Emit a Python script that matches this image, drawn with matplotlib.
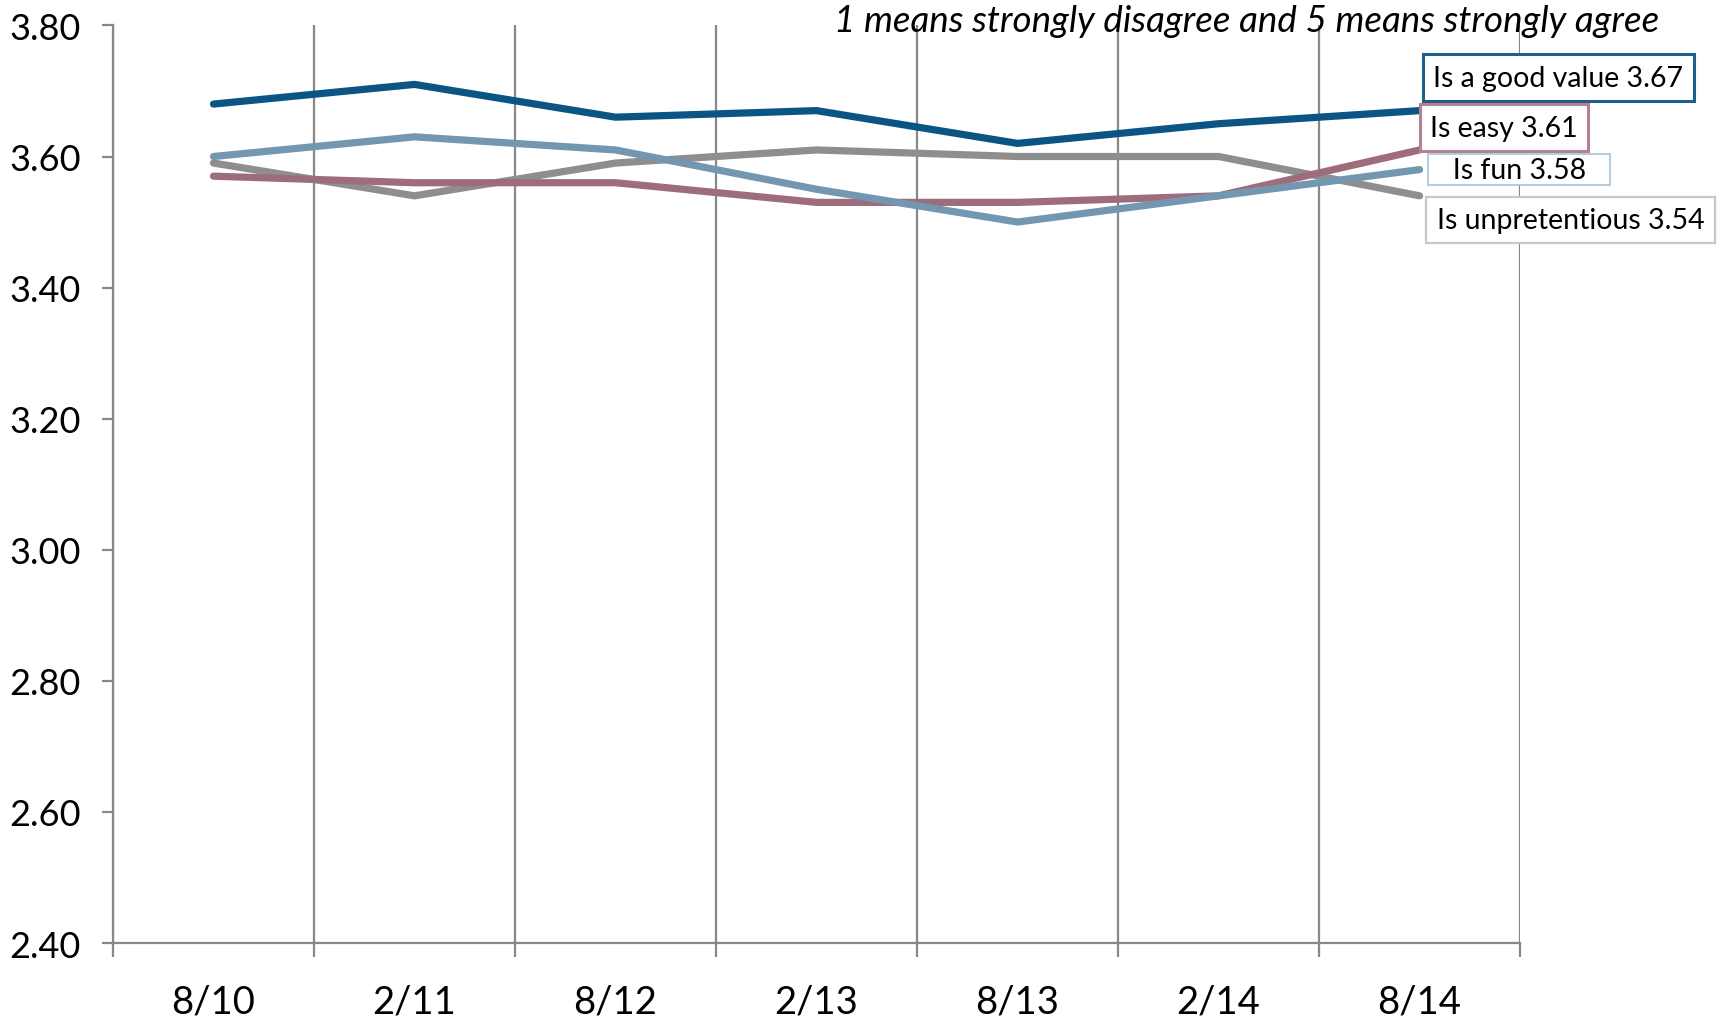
import numpy as np
import matplotlib.pyplot as plt
from matplotlib.ticker import FixedLocator

# Daten aus dem Diagramm
zeitpunkte = ['8/10', '2/11', '8/12', '2/13', '8/13', '2/14', '8/14']
gute_wert = [3.68, 3.71, 3.66, 3.67, 3.62, 3.65, 3.67]
spass = [3.60, 3.63, 3.61, 3.55, 3.50, 3.54, 3.58]
einfach = [3.57, 3.56, 3.56, 3.53, 3.53, 3.54, 3.61]
unpraetentioes = [3.59, 3.54, 3.59, 3.61, 3.60, 3.60, 3.54]

namen = ['Is a good value', 'Is easy', 'Is fun', 'Is unpretentious']
y_ticks = [2.40, 2.60, 2.80, 3.00, 3.20, 3.40, 3.60, 3.80]

plt.rcParams['font.family'] = ['Lato', 'DejaVu Sans']

fig = plt.figure(figsize=(17.25, 10.2), dpi=100)
ax = fig.add_axes([0.0655, 0.0745, 0.8157, 0.8996])

x = np.arange(len(zeitpunkte))
grau = '#888888'

# Linien (Reihenfolge wie im Original)
ax.plot(x, unpraetentioes, color='#8e8e8e', lw=5.2, solid_capstyle='round', zorder=3)
ax.plot(x, einfach, color='#9e6d7c', lw=5.2, solid_capstyle='round', zorder=4)
ax.plot(x, spass, color='#7397b0', lw=5.2, solid_capstyle='round', zorder=5)
ax.plot(x, gute_wert, color='#0b5585', lw=5.2, solid_capstyle='round', zorder=6)

ax.set_xlim(-0.5, len(zeitpunkte) - 0.5)
ax.set_ylim(2.40, 3.80)

# Achsen und Gitter
ax.set_yticks(y_ticks)
ax.set_yticklabels(['%.2f' % v for v in y_ticks])
ax.set_xticks(x)
ax.set_xticklabels(zeitpunkte)
ax.xaxis.set_minor_locator(FixedLocator(np.arange(-0.5, len(zeitpunkte), 1.0)))
ax.grid(which='minor', axis='x', color=grau, lw=1.6)
ax.tick_params(axis='x', which='major', length=0, pad=29, labelsize=27.5)
ax.tick_params(axis='x', which='minor', length=10, width=1.6, color=grau)
ax.tick_params(axis='y', length=8, width=1.6, color=grau, pad=15, labelsize=26)

for s in ['top', 'right']:
    ax.spines[s].set_visible(False)
for s in ['left', 'bottom']:
    ax.spines[s].set_color(grau)
    ax.spines[s].set_linewidth(1.6)

# Beschriftung oben rechts
fig.text(0.9617, 0.9686, '1 means strongly disagree and 5 means strongly agree',
         ha='right', va='baseline', style='italic', fontsize=26.5, zorder=10)

# Endbeschriftungen mit Rahmen (Versatz in Punkten, Mitte des Kastens)
letzter = len(zeitpunkte) - 1
etiketten = [
    ('%s %.2f' % (namen[0], gute_wert[-1]), gute_wert[-1], (100, 23.8), '#1f5f8b', 2.2, 0.36),
    ('%s %.2f' % (namen[1], einfach[-1]), einfach[-1], (60.8, 16.1), '#b7808f', 2.2, 0.36),
    ('   %s %.2f   ' % (namen[2], spass[-1]), spass[-1], (71.6, 0), '#a5c4da', 1.2, 0.08),
    ('%s %.2f' % (namen[3], unpraetentioes[-1]), unpraetentioes[-1], (108.7, -17.4), '#c8c8c8', 1.6, 0.36),
]
for text, wert, versatz, farbe, breite, pad in etiketten:
    ax.annotate(text, xy=(letzter, wert), xytext=versatz,
                textcoords='offset points', ha='center', va='center', fontsize=20.5,
                annotation_clip=False, zorder=10,
                bbox=dict(boxstyle='square,pad=%s' % pad, fc='white', ec=farbe, lw=breite))

plt.savefig('out.png', dpi=100)
